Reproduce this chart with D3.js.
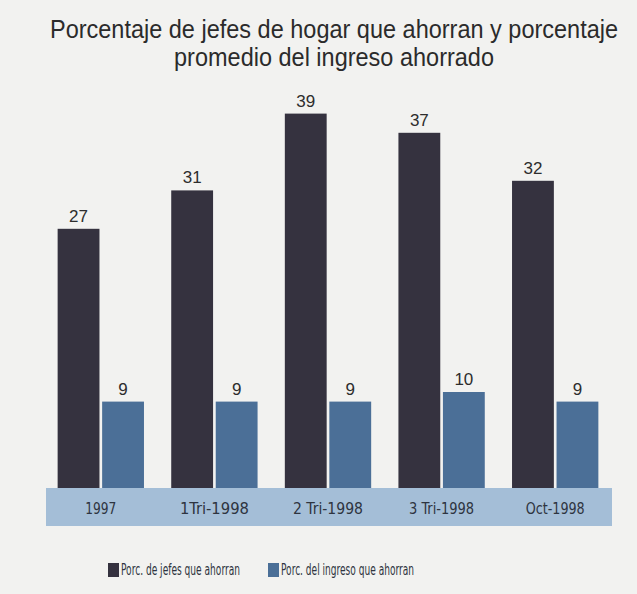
<!DOCTYPE html>
<html lang="es">
<head>
<meta charset="utf-8">
<title>Porcentaje de jefes de hogar que ahorran</title>
<style>
  html, body { margin: 0; background: #f2f2f0; }
  svg { display: block; background: #f2f2f0; }
  .title { font-family: 'Liberation Sans', Arial, sans-serif; font-size: 23.5px; fill: #2b2b2b; }
  .val { font-family: 'Liberation Sans', Arial, sans-serif; font-size: 17px; fill: #2d2d2d; }
  .cat { font-family: 'DejaVu Sans Condensed', 'DejaVu Sans', sans-serif; font-size: 16.5px; fill: #2e3440; }
  .leg { font-family: 'DejaVu Sans Condensed', 'DejaVu Sans', sans-serif; font-size: 15px; fill: #2e3440; }
</style>
</head>
<body>
<div id="vis"></div>
<script src="https://cdnjs.cloudflare.com/ajax/libs/d3/7.8.5/d3.min.js"></script>
<script>
var categories = ['1997', '1Tri-1998', '2 Tri-1998', '3 Tri-1998', 'Oct-1998'];
var jefes = [27, 31, 39, 37, 32];
var ingreso = [9, 9, 9, 10, 9];
var seriesNames = ['Porc. de jefes que ahorran', 'Porc. del ingreso que ahorran'];
var colors = ['#35323f', '#4b6f97'];

var width = 637, height = 594;

var svg = d3.select('#vis').append('svg')
    .attr('width', width)
    .attr('height', height);

// title, stretched a little vertically for the condensed look
var titleLines = ['Porcentaje de jefes de hogar que ahorran y porcentaje', 'promedio del ingreso ahorrado'];
svg.selectAll('.title')
    .data(titleLines)
    .enter().append('g')
    .attr('transform', function(d, i) { return 'translate(334,' + (38 + i * 28) + ') scale(1,1.12)'; })
    .append('text')
    .attr('class', 'title')
    .attr('text-anchor', 'middle')
    .text(function(d) { return d; });

var x0 = d3.scaleBand()
    .domain(categories)
    .range([44, 612])
    .paddingInner(0.24)
    .paddingOuter(0.12);

var x1 = d3.scaleBand()
    .domain([0, 1])
    .range([0, x0.bandwidth()])
    .paddingInner(0.06);

var y = d3.scaleLinear()
    .domain([0, 40])
    .range([488, 104]);

var table = categories.map(function(c, i) {
    return { cat: c, values: [jefes[i], ingreso[i]] };
});

// axis band
svg.append('rect')
    .attr('x', 46)
    .attr('y', y(0))
    .attr('width', 566)
    .attr('height', 38)
    .attr('fill', '#a4bed7');

var groups = svg.selectAll('.grp')
    .data(table)
    .enter().append('g')
    .attr('class', 'grp')
    .attr('transform', function(d) { return 'translate(' + x0(d.cat) + ',0)'; });

groups.selectAll('rect')
    .data(function(d) { return d.values; })
    .enter().append('rect')
    .attr('x', function(d, i) { return x1(i); })
    .attr('width', x1.bandwidth())
    .attr('y', function(d) { return y(d); })
    .attr('height', function(d) { return y(0) - y(d); })
    .attr('fill', function(d, i) { return colors[i]; });

groups.selectAll('.val')
    .data(function(d) { return d.values; })
    .enter().append('text')
    .attr('class', 'val')
    .attr('x', function(d, i) { return x1(i) + x1.bandwidth() / 2; })
    .attr('y', function(d) { return y(d) - 7; })
    .attr('text-anchor', 'middle')
    .text(function(d) { return d; });

// category labels inside the band
var catW = [31, 69, 70, 65, 59];
var xAxis = d3.axisBottom(x0).tickSize(0).tickPadding(0);
var ax = svg.append('g')
    .attr('transform', 'translate(0,' + y(0) + ')')
    .call(xAxis);
ax.select('.domain').remove();
ax.selectAll('text')
    .attr('class', 'cat')
    .attr('dy', null)
    .attr('y', 26)
    .attr('font-size', null)
    .attr('font-family', null)
    .attr('fill', null)
    .attr('textLength', function(d, i) { return catW[i]; })
    .attr('lengthAdjust', 'spacingAndGlyphs');

// legend
var legX = [108, 268];
var legW = [119, 133];
var leg = svg.selectAll('.legitem')
    .data(seriesNames)
    .enter().append('g')
    .attr('class', 'legitem')
    .attr('transform', function(d, i) { return 'translate(' + legX[i] + ',563)'; });
leg.append('rect')
    .attr('width', 11)
    .attr('height', 14)
    .attr('fill', function(d, i) { return colors[i]; });
leg.append('text')
    .attr('class', 'leg')
    .attr('x', 13)
    .attr('y', 12)
    .attr('textLength', function(d, i) { return legW[i]; })
    .attr('lengthAdjust', 'spacingAndGlyphs')
    .text(function(d) { return d; });
</script>
</body>
</html>
